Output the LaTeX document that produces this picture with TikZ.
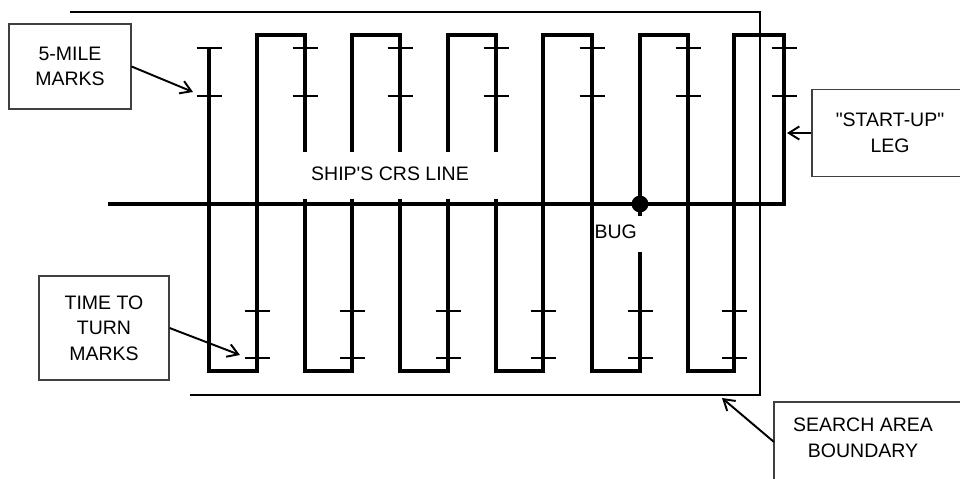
\documentclass[tikz,border=0pt]{standalone}
\usepackage{fontspec}
\newfontfamily\calloutfont{Liberation Sans}
\usetikzlibrary{arrows.meta}
\begin{document}
\begin{tikzpicture}[x=0.02cm,y=-0.02cm,
    font=\calloutfont\fontsize{11.1}{14.6}\selectfont,
    >={Straight Barb[length=6pt,width=7.5pt]},
    track/.style={line width=1.8pt},
    markline/.style={line width=1.6pt},
    areaedge/.style={line width=1.1pt},
    callout/.style={draw=black!75,line width=0.7pt,align=center,inner sep=0pt},
    pointer/.style={->,line width=1.1pt}]
    \useasboundingbox (0,0) rectangle (960,479);

    \draw[areaedge] (70,12) -- (760,12) -- (760,395) -- (190,395);

    \draw[track] (108,204) -- (784,204) -- (784,35) -- (734,35) -- (734,371)
        -- (688,371) -- (688,35) -- (640,35) -- (640,216);
    \draw[track] (640,252) -- (640,371) -- (592,371) -- (592,35) -- (543,35)
        -- (543,371) -- (496,371) -- (496,199);
    \draw[track] (496,152) -- (496,35) -- (448,35) -- (448,152);
    \draw[track] (448,199) -- (448,371) -- (400,371) -- (400,199);
    \draw[track] (400,152) -- (400,35) -- (352,35) -- (352,152);
    \draw[track] (352,199) -- (352,371) -- (305,371) -- (305,199);
    \draw[track] (305,152) -- (305,35) -- (257,35) -- (257,371)
        -- (209,371) -- (209,47);
    \fill (640,204) circle[radius=4.8pt];

    \foreach \lx in {209,305,400,496,592,688,784}
        \draw[markline] (\lx-12.5,48) -- (\lx+12.5,48)
            (\lx-12.5,96) -- (\lx+12.5,96);
    \foreach \lx in {257,352,448,543,640,734}
        \draw[markline] (\lx-12.5,311) -- (\lx+12.5,311)
            (\lx-12.5,358) -- (\lx+12.5,358);

    \node (crslabel) at (390,174) {SHIP'S CRS LINE};
    \node[anchor=east,inner sep=1pt] (buglabel) at (639,232) {BUG};

    \node[callout,minimum width=2.44cm,minimum height=1.70cm] (milebox)
        at (70,66.5) {5-MILE\\MARKS};
    \coordinate (milemark) at (193,92);
    \draw[pointer] (milebox.east) -- (milemark);

    \node[callout,minimum width=3.12cm,minimum height=1.74cm] (startbox)
        at (890,133) {"START-UP"\\LEG};
    \coordinate (startleg) at (787,133);
    \draw[pointer] (startbox.west) -- (startleg);

    \node[callout,minimum width=2.60cm,minimum height=2.08cm] (turnbox)
        at (104,328) {TIME TO\\TURN\\MARKS};
    \coordinate (turnmark) at (240,355);
    \draw[pointer] (turnbox.east) -- (turnmark);

    \draw[draw=black!75,line width=0.7pt] (774,402) rectangle (985,500);
    \node[align=center] (arealabel) at (863,438) {SEARCH AREA\\BOUNDARY};
    \coordinate (areafoot) at (774,442);
    \coordinate (areacorner) at (722,398);
    \draw[pointer] (areafoot) -- (areacorner);
\end{tikzpicture}
\end{document}
